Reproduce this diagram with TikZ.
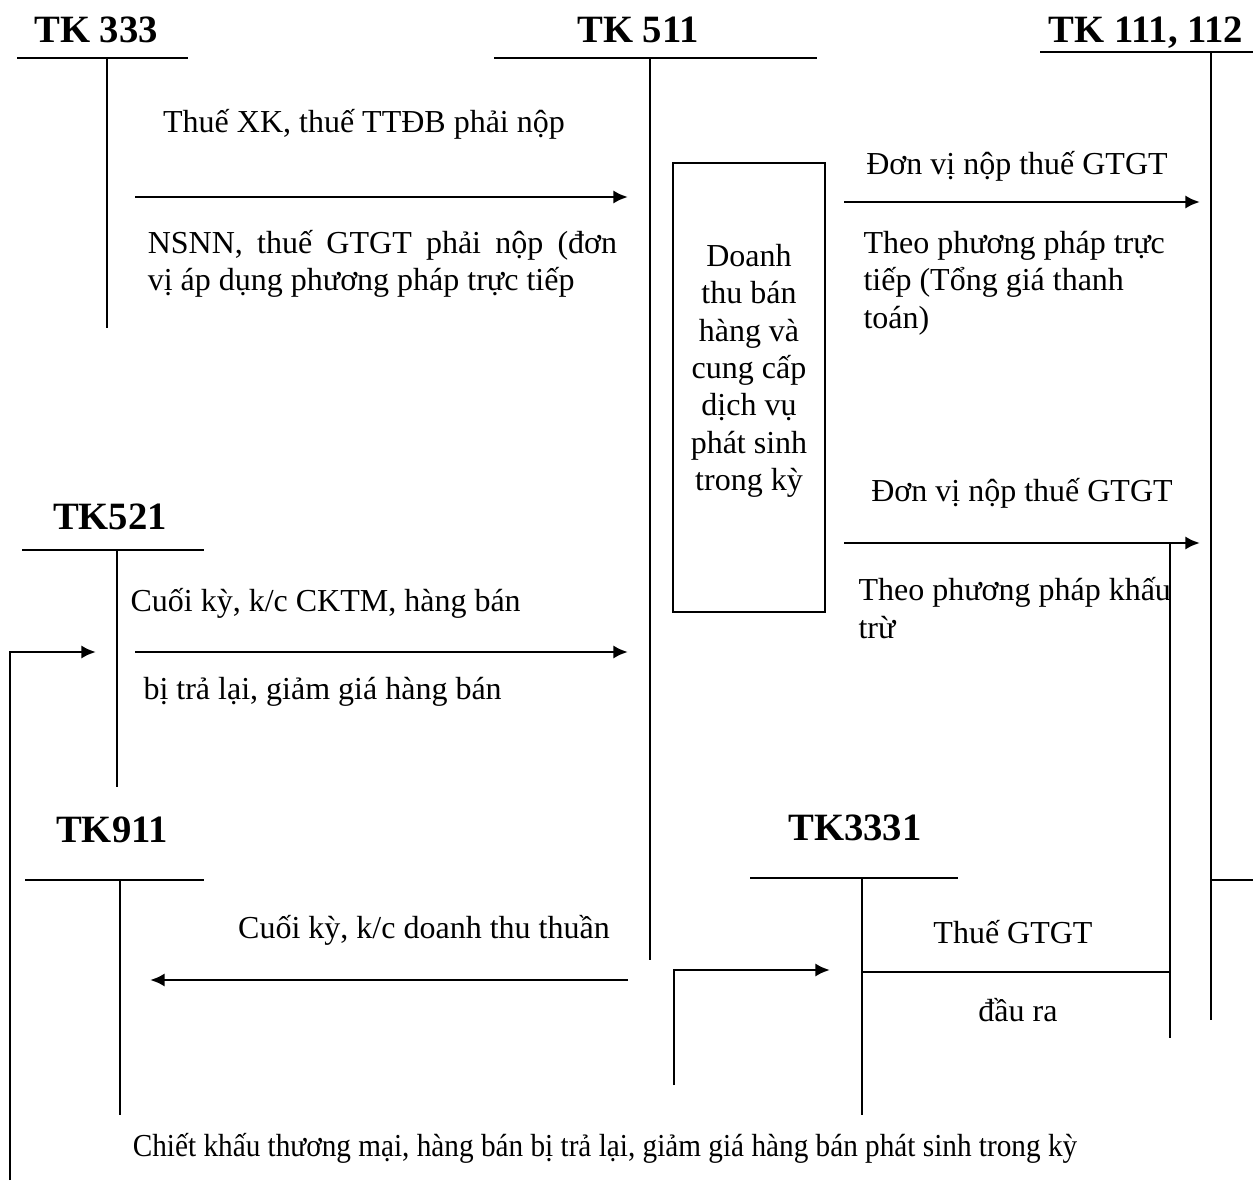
\documentclass[tikz,border=0pt]{standalone}
\usepackage{fontspec}
\usepackage{graphicx}
\setmainfont{Liberation Serif}
\usetikzlibrary{calc,arrows.meta}
\newcommand{\chu}{\fontsize{12}{14}\selectfont}

\begin{document}
\begin{tikzpicture}[x=0.375pt,y=-0.375pt]
\tikzstyle{tk}=[font=\fontsize{14.5}{16}\selectfont\bfseries, inner sep=0pt, text depth=0pt]
\tikzstyle{nhan}=[font=\chu, inner sep=0pt]
\tikzstyle{truc}=[line width=0.75pt]
\tikzstyle{mui}=[-{Latex[length=5.5pt,width=5pt]}, line width=1.1pt]
\useasboundingbox (0,0) rectangle (1253,1184);

% TK 333
\node[tk] (tk333) at (96,30) {TK 333};
\coordinate (tk333l) at (17,58);
\coordinate (tk333r) at (188,58);
\coordinate (tk333t) at (107,58);
\coordinate (tk333b) at (107,328);
\draw[truc] (tk333l) -- (tk333r);
\draw[truc] (tk333t) -- (tk333b);

% TK 511
\node[tk] (tk511) at (638,30) {TK 511};
\coordinate (tk511l) at (494,58);
\coordinate (tk511r) at (817,58);
\coordinate (tk511t) at (650,58);
\coordinate (tk511b) at (650,960);
\draw[truc] (tk511l) -- (tk511r);
\draw[truc] (tk511t) -- (tk511b);

% TK 111, 112
\node[tk] (tk111) at (1146,30) {TK 111, 112};
\coordinate (tk111l) at (1040,52);
\coordinate (tk111r) at (1253,52);
\coordinate (tk111t) at (1211,52);
\coordinate (tk111b) at (1211,1020);
\coordinate (tk111m) at (1211,880);
\coordinate (tk111n) at (1253,880);
\draw[truc] (tk111l) -- (tk111r);
\draw[truc] (tk111t) -- (tk111b);
\draw[truc] (tk111m) -- (tk111n);

% Doanh thu box
\node[draw, line width=0.9pt, minimum width=57pt, minimum height=168.4pt] (dtbox) at (749,387.5) {};
\node[nhan, align=center] (dttext) at (749,371) {Doanh\\thu bán\\hàng và\\cung cấp\\dịch vụ\\phát sinh\\trong kỳ};

% 333 -> 511
\coordinate (a1s) at (135,197);
\coordinate (a1e) at (628,197);
\draw[mui] (a1s) -- (a1e);
\node[nhan] (thuexk) at (364,124) {Thuế XK, thuế TTĐB phải nộp};
\node[nhan, text width=176pt, align=justify] (nsnn) at (382.5,264) {NSNN, thuế GTGT phải nộp (đơn\linebreak vị áp dụng phương pháp trực tiếp};

% 511 -> 111 (truc tiep)
\coordinate (a2s) at (844,202);
\coordinate (a2e) at (1200,202);
\draw[mui] (a2s) -- (a2e);
\node[nhan] (donvi1) at (1017,166) {Đơn vị nộp thuế GTGT};
\node[nhan, anchor=west, align=left] (ttiep) at (863,283) {Theo phương pháp trực\\tiếp (Tổng giá thanh\\toán)};

% 511 -> 111 (khau tru)
\coordinate (a3s) at (844,543);
\coordinate (a3e) at (1200,543);
\draw[mui] (a3s) -- (a3e);
\node[nhan] (donvi2) at (1022,493) {Đơn vị nộp thuế GTGT};
\node[nhan, anchor=west, align=left] (ktru) at (858,608) {Theo phương pháp khấu\\trừ};
\coordinate (ktt) at (1170,543);
\coordinate (ktb) at (1170,1038);
\draw[truc] (ktt) -- (ktb);

% TK521
\node[tk] (tk521) at (110,517) {TK521};
\coordinate (tk521l) at (22,550);
\coordinate (tk521r) at (204,550);
\coordinate (tk521t) at (117,550);
\coordinate (tk521b) at (117,787);
\draw[truc] (tk521l) -- (tk521r);
\draw[truc] (tk521t) -- (tk521b);
\coordinate (a4s) at (135,652);
\coordinate (a4e) at (628,652);
\draw[mui] (a4s) -- (a4e);
\node[nhan, anchor=west] (cktm1) at (130,603) {Cuối kỳ, k/c CKTM, hàng bán};
\node[nhan, anchor=west] (cktm2) at (143,692) {bị trả lại, giảm giá hàng bán};
\coordinate (a5s) at (10,1180);
\coordinate (a5e) at (96,652);
\draw[mui] (a5s) |- (a5e);

% TK911
\node[tk] (tk911) at (112,830) {TK911};
\coordinate (tk911l) at (25,880);
\coordinate (tk911r) at (204,880);
\coordinate (tk911t) at (120,880);
\coordinate (tk911b) at (120,1115);
\draw[truc] (tk911l) -- (tk911r);
\draw[truc] (tk911t) -- (tk911b);
\coordinate (a6s) at (628,980);
\coordinate (a6e) at (150,980);
\draw[mui] (a6s) -- (a6e);
\node[nhan] (dtthuan) at (424,930) {Cuối kỳ, k/c doanh thu thuần};

% TK3331
\node[tk] (tk3331) at (855,828) {TK3331};
\coordinate (tk3331l) at (750,878);
\coordinate (tk3331r) at (958,878);
\coordinate (tk3331t) at (862,878);
\coordinate (tk3331b) at (862,1115);
\draw[truc] (tk3331l) -- (tk3331r);
\draw[truc] (tk3331t) -- (tk3331b);
\coordinate (gtgtl) at (862,972);
\draw[truc] (gtgtl) -- (ktt |- gtgtl);
\node[nhan] (gtgt1) at (1013,932) {Thuế GTGT};
\node[nhan] (gtgt2) at (1018,1010) {đầu ra};
\coordinate (a7s) at (674,1085);
\coordinate (a7e) at (830,970);
\draw[mui] (a7s) |- (a7e);

\node[nhan] (chietkhau) at (605,1148) {\scalebox{0.914}[1]{Chiết khấu thương mại, hàng bán bị trả lại, giảm giá hàng bán phát sinh trong kỳ}};
\end{tikzpicture}
\end{document}
